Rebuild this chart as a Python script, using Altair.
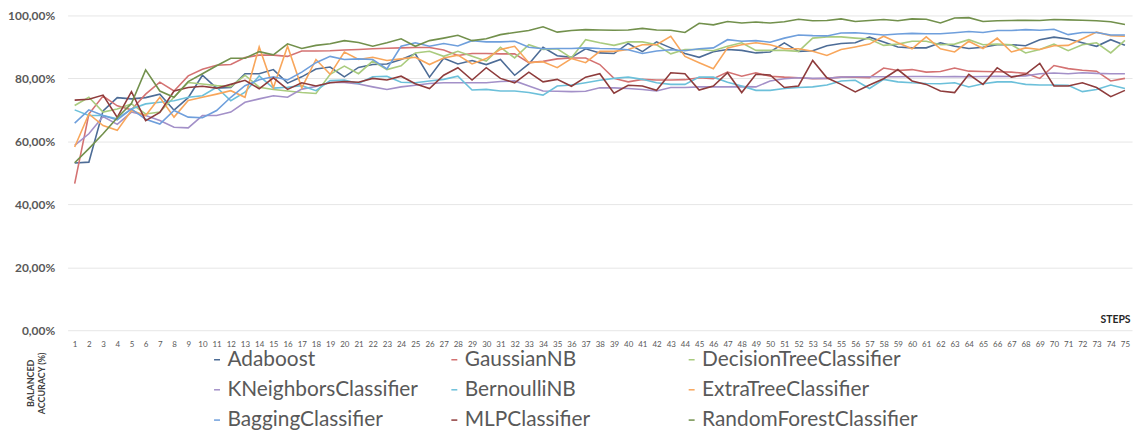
import altair as alt
import pandas as pd

steps = list(range(1, 76))

models = ["Adaboost", "GaussianNB", "DecisionTreeClassifier",
          "KNeighborsClassifier", "BernoulliNB", "ExtraTreeClassifier",
          "BaggingClassifier", "MLPClassifier", "RandomForestClassifier"]

colors = ["#4d6c96", "#d47272", "#a9cb7e",
          "#a390c8", "#6cc0da", "#f8a65b",
          "#6f9fdc", "#8e3c3c", "#72904c"]

adaboost = [53.1, 53.4, 69.7, 73.9, 73.5, 73.9, 75.0, 69.9, 73.9, 81.0,
            76.9, 77.1, 81.5, 81.5, 82.8, 78.5, 80.5, 83.0, 83.6, 80.5,
            83.5, 84.4, 84.6, 86.0, 87.8, 80.4, 86.4, 84.6, 85.7, 84.4,
            86.0, 81.0, 84.6, 89.9, 87.2, 86.7, 89.4, 88.1, 87.9, 91.1,
            88.5, 91.6, 89.7, 87.9, 86.7, 88.5, 89.2, 88.9, 88.1, 88.4,
            91.3, 88.6, 88.8, 90.4, 91.1, 91.3, 93.1, 91.6, 90.0, 89.7,
            89.7, 91.3, 90.2, 89.5, 89.9, 90.7, 90.7, 90.4, 92.3, 93.1,
            92.5, 91.3, 90.2, 92.3, 90.5]

gaussian_nb = [46.6, 68.7, 74.4, 71.3, 70.0, 75.0, 78.8, 76.0, 80.8, 82.9,
               84.2, 84.4, 86.6, 87.4, 87.4, 87.0, 88.7, 88.7, 88.8, 89.0,
               89.2, 89.4, 89.6, 89.7, 89.8, 89.8, 89.0, 87.3, 87.9, 87.9,
               87.8, 87.8, 85.0, 85.4, 86.2, 86.5, 86.5, 84.4, 80.0, 78.9,
               79.7, 79.5, 79.5, 79.6, 80.2, 79.9, 82.0, 80.7, 81.8, 80.7,
               80.4, 80.2, 79.9, 80.0, 80.4, 80.4, 80.2, 83.3, 82.5, 82.8,
               82.0, 82.2, 83.3, 82.3, 82.2, 82.1, 82.0, 81.6, 80.0, 84.1,
               83.1, 82.6, 82.3, 79.2, 80.0]

decision_tree = [71.4, 74.0, 69.3, 70.3, 71.9, 68.7, 69.3, 74.0, 78.7, 78.2,
                 77.7, 77.4, 81.0, 77.2, 76.5, 76.0, 75.5, 75.2, 81.3, 83.9,
                 81.5, 85.5, 82.8, 84.0, 88.1, 88.6, 87.0, 88.6, 87.0, 85.5,
                 89.9, 86.5, 90.7, 89.2, 89.4, 86.5, 92.3, 91.3, 90.5, 91.6,
                 91.6, 90.7, 87.8, 89.2, 89.2, 88.8, 90.2, 91.3, 88.9, 88.9,
                 88.9, 88.6, 92.8, 93.2, 93.2, 92.8, 92.5, 90.5, 90.9, 91.8,
                 91.8, 90.7, 90.9, 92.3, 90.7, 90.9, 90.7, 88.1, 89.2, 90.9,
                 88.8, 90.7, 91.3, 88.1, 92.1]

kneighbors = [58.7, 62.4, 67.9, 65.4, 69.3, 68.2, 66.6, 64.5, 64.3, 68.2,
              68.2, 69.3, 72.4, 73.5, 74.5, 74.0, 76.6, 77.4, 78.7, 78.7,
              78.2, 77.3, 76.5, 77.3, 77.8, 78.4, 78.6, 78.6, 78.6, 78.6,
              79.0, 79.2, 77.6, 76.0, 75.9, 75.8, 75.9, 77.0, 77.0, 76.8,
              76.5, 76.0, 77.1, 77.1, 77.3, 77.3, 77.3, 77.4, 77.3, 79.2,
              79.9, 80.2, 80.0, 80.0, 80.4, 80.5, 80.5, 80.5, 80.5, 80.6,
              80.6, 80.5, 80.6, 80.5, 80.6, 80.7, 80.6, 80.8, 81.5, 81.7,
              81.5, 81.8, 81.6, 81.5, 81.5]

bernoulli_nb = [70.0, 68.2, 68.2, 67.2, 70.3, 71.9, 72.4, 72.9, 74.0, 74.5,
                77.2, 72.9, 75.6, 80.8, 76.9, 77.2, 77.7, 76.1, 79.3, 79.5,
                78.4, 80.5, 80.7, 78.8, 78.6, 79.2, 79.7, 80.7, 76.3, 76.5,
                76.0, 76.0, 75.5, 74.7, 77.6, 77.9, 78.6, 79.4, 80.0, 80.4,
                79.7, 78.6, 78.1, 78.1, 80.4, 80.4, 78.8, 77.6, 76.2, 76.2,
                76.8, 77.1, 77.3, 77.9, 79.2, 79.4, 76.8, 79.7, 78.9, 78.6,
                78.4, 78.3, 78.6, 77.3, 78.3, 78.9, 78.9, 78.1, 77.9, 77.9,
                77.8, 75.8, 76.5, 77.9, 76.8]

extra_tree = [58.2, 68.7, 65.0, 63.5, 69.8, 68.2, 74.0, 67.7, 73.0, 74.0,
              75.0, 76.1, 74.0, 90.0, 77.0, 90.2, 77.0, 86.0, 81.3, 88.4,
              86.0, 86.7, 85.7, 86.2, 86.7, 84.4, 86.5, 87.4, 84.6, 86.3,
              89.2, 90.2, 85.0, 85.3, 83.4, 86.3, 85.0, 88.6, 88.6, 89.2,
              90.7, 90.7, 93.4, 87.0, 85.0, 83.1, 89.7, 90.7, 91.3, 90.7,
              89.4, 89.4, 88.6, 87.3, 89.2, 90.0, 90.9, 93.4, 91.3, 89.4,
              93.2, 89.4, 88.4, 91.8, 89.5, 92.8, 88.4, 89.7, 89.2, 90.4,
              90.5, 92.6, 94.7, 93.6, 93.4]

bagging = [65.8, 70.0, 68.2, 66.8, 70.3, 67.0, 65.5, 69.8, 67.7, 67.5,
           69.8, 74.0, 77.7, 79.6, 80.5, 79.5, 82.0, 85.0, 87.0, 86.0,
           86.2, 86.0, 83.0, 90.2, 91.3, 90.2, 91.1, 90.3, 92.0, 91.6,
           91.6, 91.8, 89.9, 89.4, 89.5, 89.5, 89.7, 89.5, 89.4, 89.1,
           87.9, 88.7, 89.1, 88.8, 89.4, 89.7, 92.3, 91.8, 92.0, 91.5,
           92.8, 93.8, 93.6, 93.5, 94.4, 94.5, 94.2, 93.8, 94.1, 94.3,
           94.2, 94.2, 94.5, 94.9, 94.6, 95.2, 95.2, 95.5, 95.3, 95.6,
           93.9, 94.6, 94.6, 93.8, 93.8]

mlp = [73.1, 73.4, 74.7, 67.6, 75.8, 66.6, 69.2, 76.0, 77.1, 77.5,
       76.9, 78.1, 79.4, 76.7, 80.2, 76.5, 78.6, 77.6, 78.6, 79.0,
       78.8, 80.0, 79.5, 80.7, 78.3, 76.8, 81.0, 83.4, 79.5, 83.4,
       80.0, 78.6, 82.0, 78.9, 79.7, 77.5, 80.4, 81.5, 75.3, 77.8,
       77.6, 76.2, 81.8, 81.5, 76.3, 77.6, 81.8, 75.5, 81.3, 81.1,
       77.1, 77.6, 85.7, 80.2, 78.1, 75.7, 77.9, 79.9, 82.8, 79.2,
       78.1, 76.0, 75.5, 81.3, 78.1, 83.4, 80.4, 81.3, 84.8, 77.6,
       77.6, 78.6, 77.1, 74.2, 76.2]

random_forest = [53.2, 57.7, 62.4, 67.5, 72.0, 82.7, 76.0, 74.0, 79.0, 81.5,
                 84.0, 86.4, 86.4, 88.5, 87.5, 91.0, 89.5, 90.5, 91.0, 92.0,
                 91.4, 90.2, 91.3, 92.6, 90.2, 92.0, 92.8, 93.7, 92.0, 92.6,
                 93.9, 94.6, 95.2, 96.4, 94.7, 95.2, 95.5, 95.4, 95.3, 95.4,
                 95.9, 95.4, 95.3, 94.6, 97.5, 97.0, 98.1, 97.6, 97.9, 97.6,
                 98.0, 98.8, 98.3, 98.4, 98.9, 98.1, 98.4, 98.7, 98.3, 98.9,
                 98.8, 97.6, 99.2, 99.3, 98.1, 98.3, 98.4, 98.5, 98.4, 98.7,
                 98.6, 98.5, 98.3, 98.0, 97.1]

series = [adaboost, gaussian_nb, decision_tree, kneighbors, bernoulli_nb,
          extra_tree, bagging, mlp, random_forest]

y_ticks = [0, 20, 40, 60, 80, 100]

# the legend fills column by column: order the entries so rows read as in the reference
legend_order = [0, 3, 6, 1, 4, 7, 2, 5, 8]
legend_domain = [models[i] for i in legend_order]
legend_range = [colors[i] for i in legend_order]

rows = []
for i, (name, vals) in enumerate(zip(models, series)):
    for s, v in zip(steps, vals):
        rows.append({"Step": s, "Model": name, "Accuracy": v, "k": i})
df = pd.DataFrame(rows)

W, H = 1072, 317

chart = alt.Chart(df).mark_line(strokeWidth=1.6).encode(
    x=alt.X("Step:O", sort=steps, scale=alt.Scale(paddingOuter=0.5),
            axis=alt.Axis(title="STEPS", labelAngle=0, ticks=False, domain=False,
                          labelOverlap=False, labelFontSize=8, labelColor="#595959",
                          labelFont="Lato", labelPadding=10, grid=False,
                          titleX=W - 2, titleY=-11, titleAlign="right",
                          titleBaseline="middle", titleFontSize=10.5,
                          titleFontWeight="bold", titleColor="#262626",
                          titleFont="Lato")),
    y=alt.Y("Accuracy:Q", scale=alt.Scale(domain=[0, 100], nice=False),
            axis=alt.Axis(values=y_ticks,
                          labelExpr="replace(format(datum.value, '.2f'), '.', ',') + '%'",
                          ticks=False, domain=False, labelPadding=13,
                          labelFontSize=12, labelFontWeight="bold",
                          labelColor="#595959", labelFont="Lato",
                          gridColor="#e6e6e6", gridWidth=1,
                          title=["BALANCED", "ACCURACY (%)"],
                          titleAngle=270, titleX=-37, titleY=370,
                          titleAlign="center", titleBaseline="middle",
                          titleFontSize=9, titleFontWeight="bold",
                          titleColor="#404040", titleFont="Lato",
                          titleLineHeight=11)),
    color=alt.Color("Model:N", scale=alt.Scale(domain=legend_domain, range=legend_range),
                    legend=alt.Legend(title=None, orient="none", legendX=140,
                                      legendY=336, columns=3, symbolType="stroke",
                                      symbolSize=36, symbolStrokeWidth=1.5,
                                      labelFontSize=21, labelFont="Lato",
                                      labelColor="#595959", labelLimit=400,
                                      columnPadding=0, rowPadding=8.5,
                                      gridAlign="all", labelOffset=0, padding=0)),
    order=alt.Order("k:Q"),
).properties(
    width=W, height=H,
    autosize=alt.AutoSizeParams(type="none"),
    padding={"left": 60, "top": 6, "right": 4, "bottom": 101},
).configure_view(stroke=None)

chart.save("out.html", embed_options={"renderer": "svg", "actions": False})
